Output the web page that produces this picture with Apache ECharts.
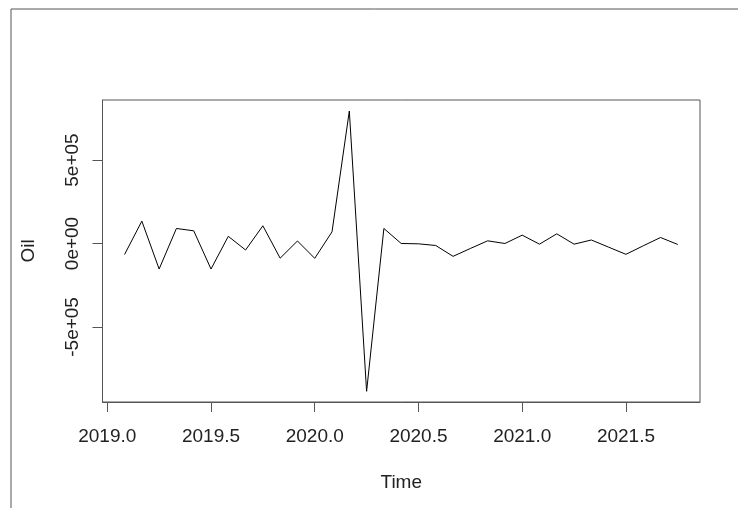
<!DOCTYPE html>
<html>
<head>
<meta charset="utf-8">
<script src="https://cdn.jsdelivr.net/npm/echarts@6/dist/echarts.min.js"></script>
<style>
  html, body { margin: 0; padding: 0; background: #ffffff; }
  #chart { width: 738px; height: 508px; }
</style>
</head>
<body>
<div id="chart"></div>
<script>
// Time (decimal years, monthly from Feb 2019 to Oct 2021)
var times = [
  2019.0833, 2019.1667, 2019.25, 2019.3333, 2019.4167, 2019.5, 2019.5833, 2019.6667, 2019.75, 2019.8333, 2019.9167,
  2020.0, 2020.0833, 2020.1667, 2020.25, 2020.3333, 2020.4167, 2020.5, 2020.5833, 2020.6667, 2020.75, 2020.8333, 2020.9167,
  2021.0, 2021.0833, 2021.1667, 2021.25, 2021.3333, 2021.4167, 2021.5, 2021.5833, 2021.6667, 2021.75
];
// Oil values
var oil = [
  -66000, 134000, -153000, 90000, 76000, -153000, 43000, -39000, 106000, -88000, 15000,
  -89000, 70000, 794000, -886000, 90000, 0, -2000, -12000, -77000, -30000, 16000, 0,
  50000, -4000, 58000, -4000, 21000, -22000, -65000, -14000, 36000, -6000
];
var xTicks = [2019.0, 2019.5, 2020.0, 2020.5, 2021.0, 2021.5];
var yTicks = [-500000, 0, 500000];
var yTickLabels = ['-5e+05', '0e+00', '5e+05'];
var xTitle = 'Time';
var yTitle = 'Oil';

var chart = echarts.init(document.getElementById('chart'), null, { renderer: 'canvas' });
var font = 'Liberation Sans, Arial, sans-serif';
var data = times.map(function (t, i) { return [t, oil[i]]; });

chart.setOption({
  animation: false,
  backgroundColor: '#ffffff',
  grid: {
    left: 102.5, right: 38, top: 100, bottom: 106,
    show: true, borderColor: '#555555', borderWidth: 1, backgroundColor: 'transparent'
  },
  graphic: [
    { type: 'line', shape: { x1: 11, y1: 9, x2: 11, y2: 508 }, style: { stroke: '#555555', lineWidth: 1 } },
    { type: 'line', shape: { x1: 11, y1: 9, x2: 738, y2: 9 }, style: { stroke: '#555555', lineWidth: 1 } }
  ],
  xAxis: {
    type: 'value',
    min: 2018.977, max: 2021.857,
    name: xTitle, nameLocation: 'middle', nameGap: 71,
    nameTextStyle: { fontFamily: font, fontSize: 19, color: '#222222' },
    axisLine: { show: true, onZero: false, lineStyle: { color: '#555555', width: 1 } },
    splitLine: { show: false },
    axisTick: { show: true, customValues: xTicks, length: 10, inside: false, lineStyle: { color: '#555555' } },
    axisLabel: {
      customValues: xTicks, margin: 25, fontFamily: font, fontSize: 19, color: '#222222',
      formatter: function (v) { return v.toFixed(1); }
    }
  },
  yAxis: {
    type: 'value',
    min: -950000, max: 860000,
    name: yTitle, nameLocation: 'middle', nameGap: 64, nameRotate: 90,
    nameTextStyle: { fontFamily: font, fontSize: 19, color: '#222222' },
    axisLine: { show: true, onZero: false, lineStyle: { color: '#555555', width: 1 } },
    splitLine: { show: false },
    axisTick: { show: true, customValues: yTicks, length: 10, lineStyle: { color: '#555555' } },
    axisLabel: {
      customValues: yTicks, rotate: 90, margin: 20, fontFamily: font, fontSize: 19, color: '#222222',
      formatter: function (v) { var i = yTicks.indexOf(v); return i >= 0 ? yTickLabels[i] : ''; }
    }
  },
  series: [{
    type: 'line',
    data: data,
    showSymbol: false,
    lineStyle: { color: '#000000', width: 1 },
    silent: true
  }]
});
</script>
</body>
</html>
